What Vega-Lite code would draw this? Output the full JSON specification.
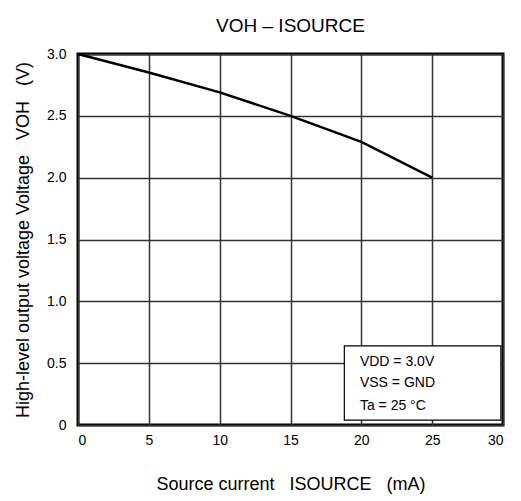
{
  "$schema": "https://vega.github.io/schema/vega-lite/v6.json",
  "autosize": "none",
  "width": 425,
  "height": 371,
  "padding": {"left": 78, "top": 54, "right": 18, "bottom": 76},
  "config": {
    "font": "Liberation Sans",
    "view": {"stroke": "black", "strokeWidth": 3},
    "axis": {"labelFont": "Liberation Sans", "titleFont": "Liberation Sans", "labelColor": "#000", "titleColor": "#000", "titleFontWeight": "normal", "labelFontSize": 14, "titleFontSize": 18, "domain": false, "ticks": false, "gridColor": "#333", "gridWidth": 1.5, "gridOpacity": 1}
  },
  "title": {"text": "VOH – ISOURCE", "font": "Liberation Sans", "fontSize": 19, "fontWeight": "normal", "color": "#000", "anchor": "middle", "offset": 11},
  "layer": [
    {
      "data": {"values": [
        {"i": 0, "v": 3.0},
        {"i": 5, "v": 2.85},
        {"i": 10, "v": 2.69},
        {"i": 15, "v": 2.5},
        {"i": 20, "v": 2.29},
        {"i": 25, "v": 2.0}
      ]},
      "mark": {"type": "line", "color": "black", "strokeWidth": 2.5},
      "encoding": {
        "x": {"field": "i", "type": "quantitative", "scale": {"domain": [0, 30], "nice": false}, "axis": {"values": [0, 5, 10, 15, 20, 25, 30], "labelPadding": 8, "title": "Source current\u00a0\u00a0\u00a0ISOURCE\u00a0\u00a0\u00a0(mA)", "titlePadding": 28}},
        "y": {"field": "v", "type": "quantitative", "scale": {"domain": [0, 3], "nice": false}, "axis": {"values": [0, 0.5, 1, 1.5, 2, 2.5, 3], "labelExpr": "datum.value == 0 ? '0' : format(datum.value, '.1f')", "labelPadding": 12, "title": "High-level output voltage Voltage\u00a0\u00a0\u00a0VOH\u00a0\u00a0\u00a0(V)", "titlePadding": 14}}
      }
    },
    {
      "data": {"values": [{"x1": 18.8, "x2": 29.85, "y1": 0.04, "y2": 0.64}]},
      "mark": {"type": "rect", "fill": "white", "stroke": "black", "strokeWidth": 1.2},
      "encoding": {
        "x": {"field": "x1", "type": "quantitative"},
        "x2": {"field": "x2"},
        "y": {"field": "y1", "type": "quantitative"},
        "y2": {"field": "y2"}
      }
    },
    {
      "data": {"values": [
        {"x": 19.9, "y": 0.51, "t": "VDD = 3.0V"},
        {"x": 19.9, "y": 0.34, "t": "VSS = GND"},
        {"x": 19.9, "y": 0.15, "t": "Ta = 25 °C"}
      ]},
      "mark": {"type": "text", "align": "left", "baseline": "middle", "fontSize": 14, "font": "Liberation Sans", "color": "black"},
      "encoding": {
        "x": {"field": "x", "type": "quantitative"},
        "y": {"field": "y", "type": "quantitative"},
        "text": {"field": "t"}
      }
    }
  ]
}
